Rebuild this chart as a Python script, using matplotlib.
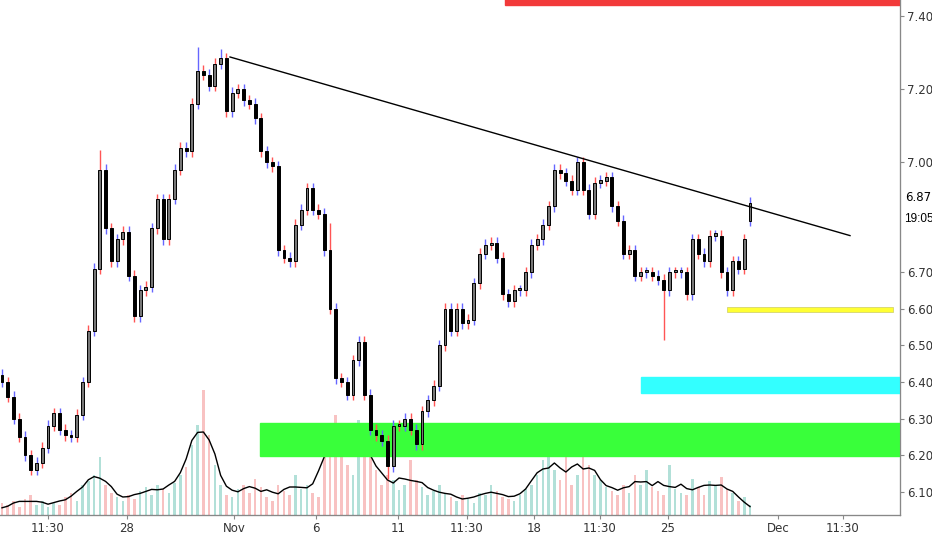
import matplotlib.pyplot as plt
import numpy as np
from matplotlib.patches import Rectangle

# closing prices, one per candle
closes = [6.40, 6.36, 6.30, 6.25, 6.20, 6.16, 6.18, 6.22, 6.28, 6.315, 6.27, 6.255, 6.25, 6.31, 6.40, 6.54,
          6.71, 6.98, 6.82, 6.73, 6.79, 6.81, 6.69, 6.58, 6.65, 6.66, 6.82, 6.90, 6.79, 6.90, 6.98, 7.04,
          7.03, 7.16, 7.25, 7.24, 7.21, 7.27, 7.285, 7.14, 7.19, 7.20, 7.17, 7.16, 7.12, 7.03, 7.00, 6.99,
          6.76, 6.74, 6.73, 6.83, 6.87, 6.93, 6.87, 6.86, 6.76, 6.60, 6.41, 6.40, 6.365, 6.46, 6.51, 6.365,
          6.27, 6.255, 6.24, 6.17, 6.28, 6.28, 6.30, 6.27, 6.23, 6.32, 6.35, 6.39, 6.50, 6.60, 6.54, 6.60,
          6.56, 6.57, 6.67, 6.75, 6.775, 6.78, 6.74, 6.64, 6.62, 6.65, 6.65, 6.70, 6.775, 6.79, 6.83, 6.88,
          6.98, 6.97, 6.95, 6.925, 7.00, 6.925, 6.86, 6.945, 6.95, 6.96, 6.88, 6.84, 6.75, 6.76, 6.69, 6.70,
          6.70, 6.69, 6.68, 6.65, 6.70, 6.70, 6.70, 6.64, 6.79, 6.75, 6.73, 6.80, 6.80, 6.70, 6.65, 6.73,
          6.71, 6.79, 6.89]
first_open = 6.42
last_open = 6.84
volume = [12, 10, 14, 8, 16, 20, 10, 14, 8, 12, 10, 18, 22, 14, 30, 34, 40, 58, 30, 22, 18, 14, 20, 16,
          24, 28, 20, 30, 26, 22, 32, 40, 48, 70, 90, 125, 80, 50, 30, 20, 18, 26, 30, 22, 36, 28, 18, 14,
          30, 24, 20, 40, 26, 30, 22, 18, 60, 90, 100, 75, 50, 40, 95, 70, 60, 45, 30, 40, 35, 25, 30, 55,
          35, 28, 20, 24, 30, 22, 18, 14, 20, 16, 12, 22, 20, 30, 24, 18, 16, 14, 20, 26, 30, 40, 55, 60,
          45, 35, 65, 30, 40, 70, 50, 40, 35, 28, 24, 20, 30, 22, 40, 30, 45, 28, 24, 20, 50, 26, 22, 20,
          36, 28, 20, 34, 30, 38, 26, 22, 14, 18, 10]
hi_ext = {17: 0.04, 34: 0.05, 38: 0.01, 57: 0.06}
lo_ext = {67: 0.02, 115: 0.12}

n = len(closes)
opens = [first_open] + closes[:-2] + [last_open]
highs = [max(o, c) + 0.015 for o, c in zip(opens, closes)]
lows = [min(o, c) - 0.015 for o, c in zip(opens, closes)]
for i, e in hi_ext.items():
    highs[i] += e
for i, e in lo_ext.items():
    lows[i] -= e

step = 748 / (n - 1)
def px2i(px):
    return (px - 2) / step

tick_px = [48, 127, 234, 316, 398, 467, 534, 600, 668, 778, 843]
tick_lbl = ["11:30", "28", "Nov", "6", "11", "11:30", "18", "11:30", "25", "Dec", "11:30"]
price_ticks = [7.40, 7.20, 7.00, 6.70, 6.60, 6.50, 6.40, 6.30, 6.20, 6.10]

fig = plt.figure(figsize=(9.32, 5.5), dpi=100)
ax = fig.add_axes([0, 35 / 550, 900 / 932, 515 / 550])
ax.set_xlim(px2i(0), px2i(900))
ax.set_ylim(6.0366, 7.4437)

# volume on its own scale
axv = ax.twinx()
axv.set_ylim(0, 515)
x = np.arange(n)
up = np.array(closes) >= np.array(opens)
axv.bar(x, volume, width=0.45, color=np.where(up, '#9fd9cf', '#f7b3b3'), alpha=0.8)
vma = np.convolve(volume, np.ones(5) / 5, mode='same')
axv.plot(x, vma, color='black', lw=1)
axv.set_yticks([])
axv.set_zorder(0)
ax.set_zorder(1)
ax.patch.set_visible(False)

# zones
ax.add_patch(Rectangle((px2i(505), 7.43), px2i(900) - px2i(505), 0.02, color='#f23a3a', zorder=1))
ax.add_patch(Rectangle((px2i(260), 6.198), px2i(900) - px2i(260), 0.09, color='#39ff3a', zorder=1))
ax.add_patch(Rectangle((px2i(641), 6.37), px2i(900) - px2i(641), 0.044, color='#33ffff', zorder=1))
ax.add_patch(Rectangle((px2i(727), 6.59), px2i(893) - px2i(727), 0.014, color='#ffff33', ec='#cccc66', lw=0.5, zorder=1))

# candles
for i in range(n):
    o, c = opens[i], closes[i]
    wc = '#ff5555' if i % 2 else '#6666ff'
    ax.vlines(i, lows[i], highs[i], color=wc, lw=1, zorder=2)
    ax.add_patch(Rectangle((i - 0.25, min(o, c)), 0.5, max(abs(c - o), 0.006),
                           fc='#777777' if c >= o else 'black', ec='black', lw=0.7, zorder=3))

# trendline
ax.plot([px2i(230), px2i(850)], [7.288, 6.80], color='black', lw=1, zorder=4)

ax.yaxis.tick_right()
ax.set_yticks(price_ticks)
ax.set_yticklabels([f"{p:.2f}" for p in price_ticks], fontsize=8.5, color='#333333')
ax.set_xticks([px2i(p) for p in tick_px])
ax.set_xticklabels(tick_lbl, fontsize=8.5, color='#333333')
ax.tick_params(length=3, pad=2, color='#888888')
for s in ['top', 'left']:
    ax.spines[s].set_visible(False)
    axv.spines[s].set_visible(False)
ax.spines['right'].set_color('#888888')
ax.spines['bottom'].set_color('#888888')
ax.text(1.006, 6.905, "6.87", transform=ax.get_yaxis_transform(), fontsize=8.5, va='center',
        bbox=dict(fc='white', ec='none', pad=1))
ax.text(1.004, 6.845, "19:05", transform=ax.get_yaxis_transform(), fontsize=8.5, va='center',
        family=['Liberation Sans Narrow', 'Liberation Sans', 'DejaVu Sans'],
        bbox=dict(fc='white', ec='none', pad=1))

fig.savefig("out.png", dpi=100)
